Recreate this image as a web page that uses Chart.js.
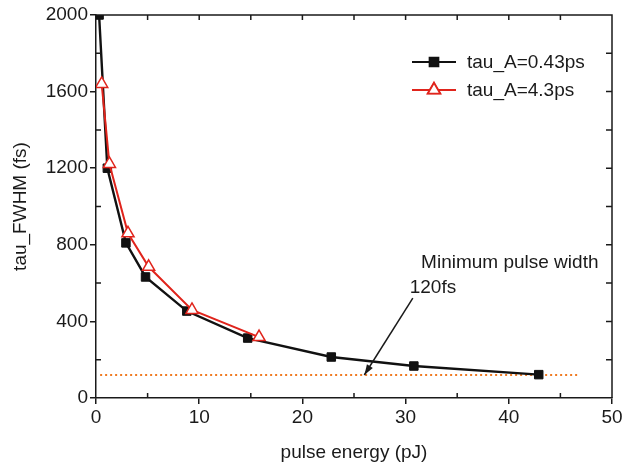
<!DOCTYPE html>
<html>
<head>
<meta charset="utf-8">
<script src="https://cdn.jsdelivr.net/npm/chart.js@4.4.0/dist/chart.umd.min.js"></script>
<style>
  html, body { margin: 0; padding: 0; background: #fff; }
  #wrap { width: 629px; height: 466px; }
</style>
</head>
<body>
<div id="wrap"><canvas id="pulseChart" width="629" height="466"></canvas></div>
<script>
// data
var energyA = [0.3, 1.1, 2.9, 4.8, 8.8, 14.7, 22.8, 30.8, 42.9];   // pJ
var widthA  = [2000, 1200, 810, 632, 454, 313, 214, 167, 122];     // fs
var energyB = [0.55, 1.3, 3.1, 5.1, 9.3, 15.8];
var widthB  = [1640, 1222, 860, 685, 460, 318];
var minLineX = [0.4, 46.7];
var minLineY = [120, 120];
var xTicks = [0, 10, 20, 30, 40, 50];
var yTicks = [0, 400, 800, 1200, 1600, 2000];
var seriesNames = ['tau_A=0.43ps', 'tau_A=4.3ps'];
var noteLines = ['Minimum pulse width', '120fs'];
var noteX = [31.5, 30.4];
var noteY = [679, 548];
var arrowX = [30.7, 26.0];
var arrowY = [522, 120];

var FONT = "'Liberation Sans', Arial, sans-serif";
var INK = '#1a1a1a';

function toPts(xs, ys) {
  return xs.map(function (x, i) { return { x: x, y: ys[i] }; });
}

var frameDeco = {
  id: 'frameDeco',
  afterDraw: function (chart) {
    var ctx = chart.ctx, a = chart.chartArea;
    var sx = chart.scales.x, sy = chart.scales.y;
    ctx.save();
    ctx.strokeStyle = INK;
    ctx.lineWidth = 1.5;
    // top + right frame
    ctx.beginPath();
    ctx.moveTo(a.left, a.top); ctx.lineTo(a.right, a.top); ctx.lineTo(a.right, a.bottom);
    ctx.stroke();
    // inward ticks
    ctx.beginPath();
    for (var v = 5; v < 50; v += 5) {
      var px = sx.getPixelForValue(v);
      ctx.moveTo(px, a.top); ctx.lineTo(px, a.top + 5);
      if (v % 10 !== 0) { ctx.moveTo(px, a.bottom); ctx.lineTo(px, a.bottom - 5); }
    }
    for (var w = 200; w < 2000; w += 200) {
      var py = sy.getPixelForValue(w);
      ctx.moveTo(a.right, py); ctx.lineTo(a.right - 6, py);
      if (w % 400 !== 0) { ctx.moveTo(a.left, py); ctx.lineTo(a.left + 5, py); }
    }
    ctx.stroke();

    // arrow to the 120 fs line
    var x0 = sx.getPixelForValue(arrowX[0]), y0 = sy.getPixelForValue(arrowY[0]);
    var x1 = sx.getPixelForValue(arrowX[1]), y1 = sy.getPixelForValue(arrowY[1]);
    ctx.lineWidth = 1.5;
    ctx.beginPath(); ctx.moveTo(x0, y0); ctx.lineTo(x1, y1); ctx.stroke();
    var ang = Math.atan2(y1 - y0, x1 - x0);
    ctx.fillStyle = INK;
    ctx.beginPath();
    ctx.moveTo(x1, y1);
    ctx.lineTo(x1 - 11 * Math.cos(ang - 0.32), y1 - 11 * Math.sin(ang - 0.32));
    ctx.lineTo(x1 - 11 * Math.cos(ang + 0.32), y1 - 11 * Math.sin(ang + 0.32));
    ctx.closePath(); ctx.fill();

    // note text
    ctx.font = '19px ' + FONT;
    ctx.textBaseline = 'alphabetic';
    ctx.textAlign = 'left';
    noteLines.forEach(function (t, i) {
      ctx.fillText(t, sx.getPixelForValue(noteX[i]), sy.getPixelForValue(noteY[i]));
    });

    // legend: line - marker - line
    var rows = [62, 90];
    var ds = chart.data.datasets;
    rows.forEach(function (ry, i) {
      var d = ds[i];
      ctx.strokeStyle = d.borderColor;
      ctx.lineWidth = 2.2;
      ctx.beginPath(); ctx.moveTo(412, ry); ctx.lineTo(456, ry); ctx.stroke();
      Chart.helpers.drawPoint(ctx, {
        pointStyle: d.pointStyle, radius: d.pointRadius, borderWidth: d.pointBorderWidth, rotation: 0
      }, 434, ry);
      ctx.fillStyle = d.pointBackgroundColor;
      ctx.fill();
      ctx.strokeStyle = d.borderColor;
      ctx.lineWidth = d.pointBorderWidth;
      ctx.stroke();
      ctx.fillStyle = INK;
      ctx.textBaseline = 'middle';
      ctx.font = '19px ' + FONT;
      ctx.fillText(seriesNames[i], 467, ry + 1);
    });
    ctx.restore();
  }
};

var ctx = document.getElementById('pulseChart').getContext('2d');

new Chart(ctx, {
  type: 'line',
  data: {
    datasets: [
      {
        label: seriesNames[0],
        data: toPts(energyA, widthA),
        borderColor: '#111111',
        backgroundColor: '#111111',
        borderWidth: 2.4,
        pointStyle: 'rect',
        pointRadius: 6,
        pointBackgroundColor: '#111111',
        pointBorderColor: '#111111',
        pointBorderWidth: 1,
        tension: 0,
        order: 2,
      },
      {
        label: seriesNames[1],
        data: toPts(energyB, widthB),
        borderColor: '#e0241c',
        backgroundColor: '#ffffff',
        borderWidth: 2,
        pointStyle: 'triangle',
        pointRadius: 7,
        pointBackgroundColor: '#ffffff',
        pointBorderColor: '#e0241c',
        pointBorderWidth: 1.5,
        tension: 0,
        order: 1,
      },
      {
        label: 'min',
        data: toPts(minLineX, minLineY),
        borderColor: '#f07a22',
        borderWidth: 2,
        borderDash: [2, 3],
        pointRadius: 0,
        order: 3,
      },
    ],
  },
  options: {
    responsive: false,
    animation: false,
    layout: { padding: { top: 15, right: 17, left: 0, bottom: 0 } },
    plugins: { legend: { display: false }, tooltip: { enabled: false } },
    scales: {
      x: {
        type: 'linear',
        min: 0, max: 50,
        afterBuildTicks: function (s) { s.ticks = xTicks.map(function (v) { return { value: v }; }); },
        afterFit: function (s) { s.height = 68; },
        ticks: { color: INK, font: { family: FONT, size: 19 }, padding: 2, maxRotation: 0,
                 callback: function (v) { return String(v); } },
        grid: { drawOnChartArea: false, drawTicks: true, tickLength: 6, color: INK, lineWidth: 1.5 },
        border: { color: INK, width: 1.5 },
        title: { display: true, text: 'pulse energy (pJ)', color: INK, font: { family: FONT, size: 19 }, padding: { top: 0, bottom: 2 } },
      },
      y: {
        type: 'linear',
        min: 0, max: 2000,
        afterBuildTicks: function (s) { s.ticks = yTicks.map(function (v) { return { value: v }; }); },
        afterFit: function (s) { s.width = 96; },
        ticks: { color: INK, font: { family: FONT, size: 19 }, padding: 2,
                 callback: function (v) { return String(v); } },
        grid: { drawOnChartArea: false, drawTicks: true, tickLength: 6, color: INK, lineWidth: 1.5 },
        border: { color: INK, width: 1.5 },
        title: { display: true, text: 'tau_FWHM (fs)', color: INK, font: { family: FONT, size: 19 }, padding: { top: 9, bottom: 0 } },
      },
    },
  },
  plugins: [frameDeco],
});
</script>
</body>
</html>
